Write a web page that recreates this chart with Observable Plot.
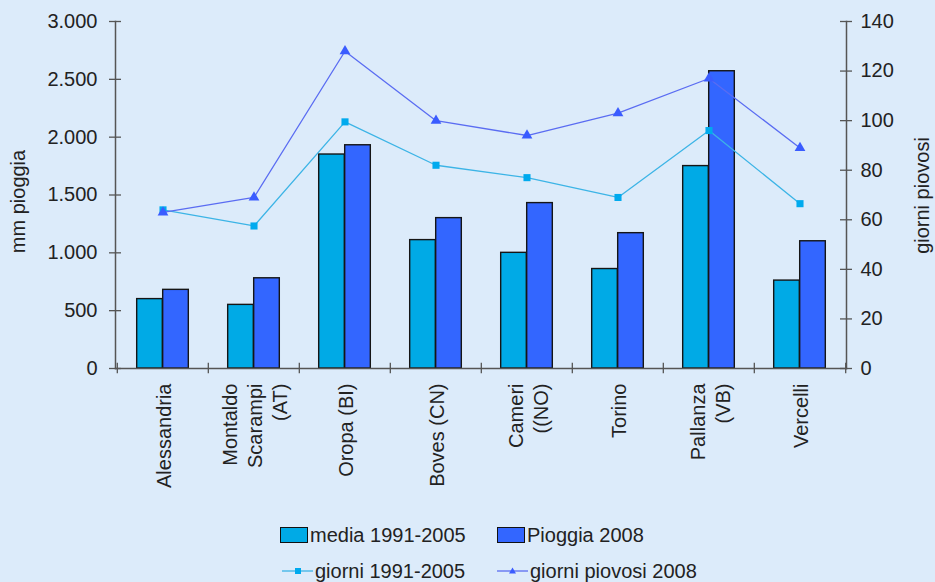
<!DOCTYPE html>
<html><head><meta charset="utf-8">
<script src="https://cdn.jsdelivr.net/npm/d3@7"></script>
<script src="https://cdn.jsdelivr.net/npm/@observablehq/plot@0.6"></script>
<style>
html,body{margin:0;padding:0;background:#dcebfa;}
#wrap{position:relative;width:935px;height:582px;background:#dcebfa;font-family:"Liberation Sans",Arial,sans-serif;color:#222;overflow:hidden;}
#wrap svg.plot{position:absolute;left:0;top:0;}
.lg{position:absolute;font-size:20px;line-height:20px;white-space:nowrap;color:#222;}
.sw{position:absolute;box-sizing:border-box;width:28px;height:16px;border:1.5px solid #111;}
.ls{position:absolute;}
</style></head><body><div id="wrap"></div>
<script>
// ---- data ----
const stazioni = ["Alessandria","Montaldo\nScarampi\n(AT)","Oropa (BI)","Boves (CN)","Cameri\n((NO)","Torino","Pallanza\n(VB)","Vercelli"];
const media19912005 = [600, 550, 1850, 1110, 1000, 860, 1750, 760];
const pioggia2008 = [680, 780, 1930, 1300, 1430, 1170, 2570, 1100];
const giorni19912005 = [64, 57.5, 99.5, 82, 77, 69, 96, 66.5];
const giorniPiovosi2008 = [63, 69, 128, 100, 94, 103, 117, 89];
const mmTicks = [0, 500, 1000, 1500, 2000, 2500, 3000];
const giorniTicks = [0, 20, 40, 60, 80, 100, 120, 140];
const seriesNames = ["media 1991-2005", "Pioggia 2008", "giorni 1991-2005", "giorni piovosi 2008"];
const axisTitles = ["mm pioggia", "giorni piovosi"];

// ---- layout ----
const W = 935, H = 505, mT = 21, mB = 137, mL = 115, mR = 89;
const yMax = 3000, gMax = 140, k = yMax / gMax;
const fw = W - mL - mR;
const bw = fw / stazioni.length;
const barW = 26;
const innerInset = bw / 2 - barW;

const rows = stazioni.map((s, i) => ({s, media: media19912005[i], p: pioggia2008[i], g: giorni19912005[i], g8: giorniPiovosi2008[i]}));
const fmt = d3.formatLocale({decimal: ",", thousands: ".", grouping: [3], currency: ["", ""]}).format(",");

const cMedia = "#00aae6", cPioggia = "#3366ff";
const cLine1 = "#3cb4e6", cDot1 = "#00aaee";
const cLine2 = "#5a6cf2", cDot2 = "#3a5cff";
const axisC = "#555";

const plot = Plot.plot({
  width: W, height: H,
  marginTop: mT, marginBottom: mB, marginLeft: mL, marginRight: mR,
  style: {fontFamily: "'Liberation Sans', Arial, sans-serif", fontSize: "20px", color: "#222", background: "transparent", overflow: "visible"},
  x: {type: "band", domain: stazioni, padding: 0, axis: null},
  y: {domain: [0, yMax], axis: null},
  marks: [
    Plot.barY(rows, {x: "s", y: "media", fill: cMedia, stroke: "#151515", strokeWidth: 1.4, insetLeft: innerInset, insetRight: bw / 2}),
    Plot.barY(rows, {x: "s", y: "p", fill: cPioggia, stroke: "#151515", strokeWidth: 1.4, insetLeft: bw / 2, insetRight: innerInset}),
    Plot.line(rows, {x: "s", y: d => d.g * k, stroke: cLine1, strokeWidth: 1.3}),
    Plot.dot(rows, {x: "s", y: d => d.g * k, symbol: "square", r: 4, fill: cDot1}),
    Plot.line(rows, {x: "s", y: d => d.g8 * k, stroke: cLine2, strokeWidth: 1.3}),
    Plot.dot(rows, {x: "s", y: d => d.g8 * k, symbol: "triangle", r: 4, fill: cDot2}),
    Plot.frame({anchor: "left", stroke: axisC, strokeWidth: 1.5}),
    Plot.frame({anchor: "right", stroke: axisC, strokeWidth: 1.5}),
    Plot.frame({anchor: "bottom", stroke: axisC, strokeWidth: 1.5}),
    Plot.tickY(mmTicks, {y: d => d, insetLeft: -6, insetRight: fw - 6, stroke: axisC, strokeWidth: 1.3}),
    Plot.tickY(giorniTicks, {y: d => d * k, insetLeft: fw - 6, insetRight: -6, stroke: axisC, strokeWidth: 1.3}),
    Plot.ruleX(stazioni, {x: d => d, dx: -bw / 2, y1: -45, y2: 45, stroke: axisC, strokeWidth: 1.3}),
    Plot.ruleX([stazioni[stazioni.length - 1]], {x: d => d, dx: bw / 2, y1: -45, y2: 45, stroke: axisC, strokeWidth: 1.3}),
    Plot.axisY(mmTicks, {anchor: "left", tickSize: 0, tickPadding: 18, tickFormat: fmt, label: null, fontSize: 20, fill: "#222"}),
    Plot.axisY(giorniTicks.map(d => d * k), {anchor: "right", tickSize: 0, tickPadding: 14, tickFormat: d => String(Math.round(d / k)), label: null, fontSize: 20, fill: "#222"}),
    Plot.text(stazioni, {x: d => d, y: 0, dy: 15, rotate: -90, textAnchor: "end", lineAnchor: "middle", lineHeight: 1.25, fontSize: 20, fill: "#222"}),
    Plot.text([axisTitles[0]], {frameAnchor: "left", textAnchor: "middle", lineAnchor: "middle", dx: -97, dy: 6.5, rotate: -90, fontSize: 20, fill: "#222"}),
    Plot.text([axisTitles[1]], {frameAnchor: "right", textAnchor: "middle", lineAnchor: "middle", dx: 76, dy: 0.5, rotate: -90, fontSize: 20, fill: "#222"})
  ]
});
plot.classList.add("plot");
const wrap = document.getElementById("wrap");
wrap.appendChild(plot);

// ---- legend ----
function add(html) { wrap.insertAdjacentHTML("beforeend", html); }
add(`<div class="sw" style="left:280px;top:527px;background:${cMedia}"></div>`);
add(`<div class="lg" style="left:310px;top:525px">${seriesNames[0]}</div>`);
add(`<div class="sw" style="left:497px;top:527px;background:${cPioggia}"></div>`);
add(`<div class="lg" style="left:527px;top:525px">${seriesNames[1]}</div>`);
add(`<svg class="ls" style="left:282px;top:566px" width="32" height="10"><line x1="0" y1="5" x2="31" y2="5" stroke="${cLine1}" stroke-width="1.3"/><rect x="13" y="2" width="6" height="6" fill="${cDot1}"/></svg>`);
add(`<div class="lg" style="left:315px;top:561px">${seriesNames[2]}</div>`);
add(`<svg class="ls" style="left:497px;top:566px" width="32" height="10"><line x1="0" y1="5" x2="31" y2="5" stroke="${cLine2}" stroke-width="1.3"/><path d="M15.5,1.5 L19,7.5 L12,7.5 Z" fill="${cDot2}"/></svg>`);
add(`<div class="lg" style="left:530px;top:561px">${seriesNames[3]}</div>`);
</script></body></html>
